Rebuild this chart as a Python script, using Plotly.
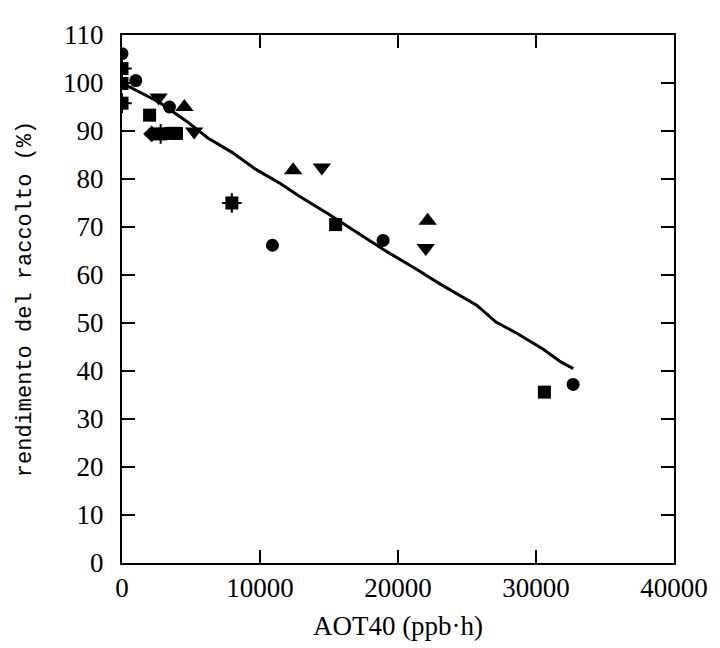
import plotly.graph_objects as go

# Data
circle_x = [0, 1000, 3440, 10900, 18920, 32690]
circle_y = [106.1, 100.5, 95.0, 66.2, 67.2, 37.2]

square_x = [0, 2000, 3550, 3950, 15480, 30610]
square_y = [99.9, 93.3, 89.5, 89.5, 70.5, 35.6]

crosssq_x = [0, 0, 2800, 7960]
crosssq_y = [103.0, 95.8, 89.4, 75.0]

triup_x = [4520, 12400, 22150]
triup_y = [95.0, 81.8, 71.3]

tridown_x = [2650, 5230, 14480, 22010]
tridown_y = [97.0, 89.9, 82.4, 65.6]

diamond_x = [2150]
diamond_y = [89.4]

fit_x = [0, 2700, 4700, 6200, 8000, 9700, 11500, 12800, 14900, 16600, 19000,
         21400, 23000, 25700, 27100, 28700, 30500, 31800, 32700]
fit_y = [100, 96, 92, 88.6, 85.5, 82, 79, 76.5, 72.8, 69.7, 65.2,
         61.1, 58.2, 53.7, 50.2, 47.7, 44.6, 41.9, 40.5]

x_ticks = [0, 10000, 20000, 30000, 40000]
y_ticks = [0, 10, 20, 30, 40, 50, 60, 70, 80, 90, 100, 110]

fig = go.Figure()

fig.add_trace(go.Scatter(x=fit_x, y=fit_y, mode="lines",
                         line=dict(color="black", width=3), showlegend=False))

def mk(x, y, symbol, size, lw=0):
    fig.add_trace(go.Scatter(x=x, y=y, mode="markers", showlegend=False,
                             marker=dict(symbol=symbol, size=size, color="black",
                                         line=dict(color="black", width=lw))))

mk(circle_x, circle_y, "circle", 13)
mk(square_x, square_y, "square", 13)
mk(crosssq_x, crosssq_y, "square", 13)
mk(crosssq_x, crosssq_y, "cross-thin", 14, 2)
mk(triup_x, triup_y, "triangle-up", 16)
mk(tridown_x, tridown_y, "triangle-down", 16)
mk(diamond_x, diamond_y, "diamond", 13)

tickfont = dict(family="Liberation Serif", size=27, color="black")

fig.update_layout(
    width=712, height=640,
    margin=dict(l=114, r=40, t=21, b=84),
    plot_bgcolor="white", paper_bgcolor="white",
    xaxis=dict(range=[0, 40000], tickvals=x_ticks, ticktext=[str(v) for v in x_ticks],
               ticks="inside", ticklen=13, tickwidth=2, tickcolor="black",
               showline=True, linecolor="black", linewidth=2, mirror="ticks",
               showgrid=False, zeroline=False, tickfont=tickfont,
               title=dict(text="AOT40 (ppb·h)", font=tickfont, standoff=14)),
    yaxis=dict(range=[0, 110], tickvals=y_ticks, ticktext=[str(v) for v in y_ticks],
               ticks="inside", ticklen=13, tickwidth=2, tickcolor="black",
               ticklabelstandoff=11,
               showline=True, linecolor="black", linewidth=2, mirror="ticks",
               showgrid=False, zeroline=False, tickfont=tickfont,
               title=dict(text="rendimento del raccolto (%)",
                          font=dict(family="Liberation Mono", size=22, color="black"),
                          standoff=25)),
)

fig.write_html("out.html")
